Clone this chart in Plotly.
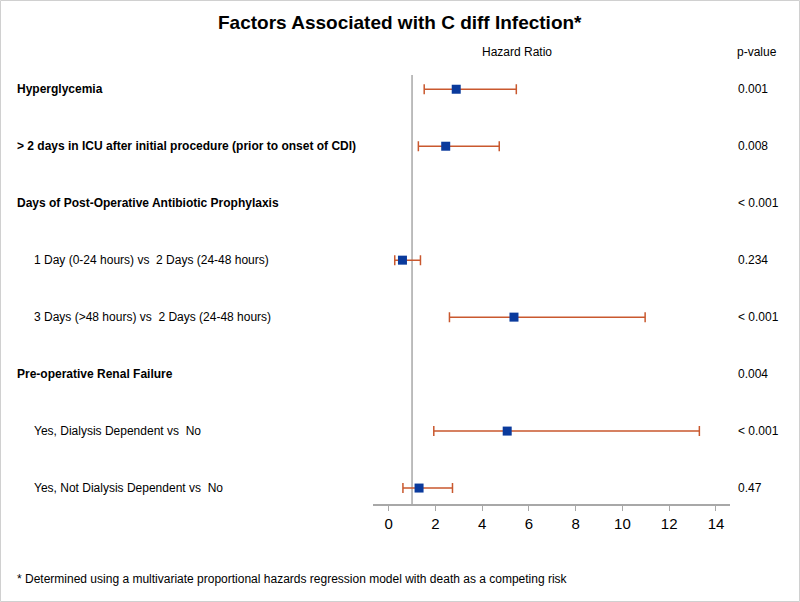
import plotly.graph_objects as go

labels = [
    "Hyperglycemia",
    "> 2 days in ICU after initial procedure (prior to onset of CDI)",
    "Days of Post-Operative Antibiotic Prophylaxis",
    "1 Day (0-24 hours) vs  2 Days (24-48 hours)",
    "3 Days (>48 hours) vs  2 Days (24-48 hours)",
    "Pre-operative Renal Failure",
    "Yes, Dialysis Dependent vs  No",
    "Yes, Not Dialysis Dependent vs  No",
]
is_header = [True, True, True, False, False, True, False, False]
hr = [2.89, 2.44, None, 0.59, 5.36, None, 5.07, 1.30]
lower = [1.52, 1.27, None, 0.26, 2.60, None, 1.93, 0.61]
upper = [5.46, 4.73, None, 1.36, 10.97, None, 13.29, 2.73]
pvalues = ["0.001", "0.008", "< 0.001", "0.234", "< 0.001", "0.004", "< 0.001", "0.47"]
xticks = [0, 2, 4, 6, 8, 10, 12, 14]

rows = list(range(1, len(labels) + 1))
W, H = 800, 602
ML, MR, MT, MB = 373, 70, 75, 98
pw, ph = W - ML - MR, H - MT - MB

def px2paper_x(px):
    return (px - ML) / pw

def px2paper_y(py):
    return 1 - (py - MT) / ph

pr, py_, plo, pup = [], [], [], []
for r, h, lo, up in zip(rows, hr, lower, upper):
    if h is not None:
        pr.append(r); py_.append(h); plo.append(h - lo); pup.append(up - h)

FONT = "Liberation Sans, Arial"

fig = go.Figure()
fig.add_trace(go.Scatter(
    x=py_, y=pr, mode="markers",
    marker=dict(symbol="square", size=9, color="#0a3a9c"),
    error_x=dict(type="data", symmetric=False, array=pup, arrayminus=plo,
                 color="#c9582e", thickness=1.5, width=5),
    showlegend=False, hoverinfo="skip",
))

# reference line at HR = 1
fig.add_shape(type="line", x0=1, x1=1, xref="x", y0=0, y1=1, yref="paper",
              line=dict(color="#a8a8a8", width=1.5), layer="below")

annotations = []
for r, lab, hd, pv in zip(rows, labels, is_header, pvalues):
    annotations.append(dict(
        x=px2paper_x(15 if hd else 32), xref="paper", y=r, yref="y",
        text=f"<b>{lab}</b>" if hd else lab, showarrow=False,
        xanchor="left", yanchor="middle",
        font=dict(family=FONT, size=12, color="black")))
    annotations.append(dict(
        x=px2paper_x(736), xref="paper", y=r, yref="y", text=pv, showarrow=False,
        xanchor="left", yanchor="middle",
        font=dict(family=FONT, size=12, color="black")))

annotations.append(dict(x=px2paper_x(517), xref="paper", y=px2paper_y(52), yref="paper",
                        text="Hazard Ratio", showarrow=False, xanchor="center", yanchor="middle",
                        font=dict(family=FONT, size=12, color="black")))
annotations.append(dict(x=px2paper_x(757), xref="paper", y=px2paper_y(52), yref="paper",
                        text="p-value", showarrow=False, xanchor="center", yanchor="middle",
                        font=dict(family=FONT, size=12, color="black")))
annotations.append(dict(x=px2paper_x(400), xref="paper", y=px2paper_y(22), yref="paper",
                        text="<b>Factors Associated with C diff Infection*</b>", showarrow=False,
                        xanchor="center", yanchor="middle",
                        font=dict(family=FONT, size=19, color="black")))
annotations.append(dict(x=px2paper_x(15), xref="paper", y=px2paper_y(579), yref="paper",
                        text="* Determined using a multivariate proportional hazards regression model with death as a competing risk",
                        showarrow=False, xanchor="left", yanchor="middle",
                        font=dict(family=FONT, size=12, color="black")))

# outer border
fig.add_shape(type="rect", xref="paper", yref="paper",
              x0=px2paper_x(0.5), x1=px2paper_x(W - 0.5),
              y0=px2paper_y(H - 0.5), y1=px2paper_y(0.5),
              line=dict(color="#d0d0d0", width=1))

fig.update_layout(
    width=W, height=H,
    margin=dict(l=ML, r=MR, t=MT, b=MB, pad=0),
    plot_bgcolor="white", paper_bgcolor="white",
    annotations=annotations,
    xaxis=dict(range=[-0.67, 14.6], tickvals=xticks, ticktext=[str(t) for t in xticks],
               showgrid=False, zeroline=False, showline=True, linecolor="#a8a8a8", linewidth=1.5,
               ticks="outside", ticklen=5, tickcolor="#a8a8a8", tickwidth=1,
               tickfont=dict(family=FONT, size=15, color="black")),
    yaxis=dict(range=[8.28, 0.75], showgrid=False, zeroline=False, showline=False,
               showticklabels=False, ticks=""),
)

fig.write_html("out.html", config={"displayModeBar": False},
               post_script="document.body.style.margin='0';")
